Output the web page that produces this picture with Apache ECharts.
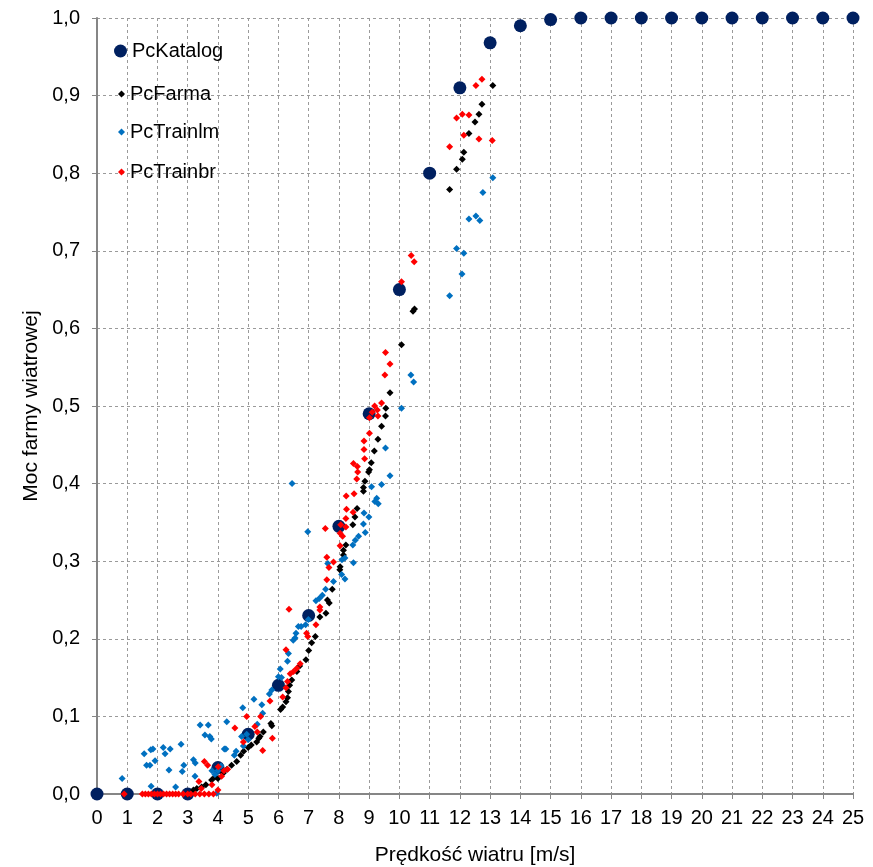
<!DOCTYPE html>
<html>
<head>
<meta charset="utf-8">
<script src="https://cdn.jsdelivr.net/npm/echarts@6/dist/echarts.min.js"></script>
<style>
  html, body { margin: 0; padding: 0; background: #fff; }
  #chart { width: 873px; height: 867px; }
</style>
</head>
<body>
<div id="chart"></div>
<script>
// dane: [prędkość wiatru, moc]
const katalogX = [0,1,2,3,4,5,6,7,8,9,10,11,12,13,14,15,16,17,18,19,20,21,22,23,24,25];
const katalogY = [0,0,0,0,0.034,0.077,0.14,0.23,0.345,0.49,0.65,0.80,0.91,0.968,0.99,0.998,1,1,1,1,1,1,1,1,1,1];

const farma = [
  [3.0,0.0],[3.19,0.005],[3.3,0.007],[3.46,0.009],[3.6,0.012],[3.79,0.018],[3.9,0.022],[4.0,0.02],
  [4.18,0.027],[4.3,0.032],[4.45,0.037],[4.62,0.042],[4.75,0.05],[4.85,0.055],[5.0,0.06],[5.1,0.063],
  [5.28,0.067],[5.35,0.072],[5.39,0.074],[5.5,0.08],[5.75,0.091],[5.78,0.088],[6.07,0.109],[6.14,0.112],
  [6.25,0.119],[6.3,0.124],[6.33,0.132],[6.37,0.14],[6.44,0.147],[6.61,0.158],[6.7,0.165],[6.91,0.173],
  [7.0,0.185],[7.1,0.195],[7.22,0.203],[7.37,0.228],[7.57,0.233],[7.62,0.25],[7.68,0.246],[7.78,0.264],
  [8.03,0.289],[8.04,0.293],[8.15,0.308],[8.15,0.314],[8.23,0.321],[8.46,0.347],[8.53,0.357],[8.6,0.368],
  [8.81,0.39],[8.81,0.395],[8.86,0.403],[8.98,0.415],[9.01,0.418],[9.07,0.427],[9.17,0.442],[9.29,0.457],
  [9.41,0.474],[9.54,0.487],[9.55,0.497],[9.69,0.517],[10.07,0.579],[10.45,0.622],[10.5,0.625],
  [11.66,0.779],[11.89,0.805],[12.08,0.818],[12.13,0.827],[12.3,0.851],[12.5,0.866],[12.63,0.876],
  [12.73,0.889],[13.09,0.913]
];

const trainlm = [
  [0.83,0.02],[1.56,0.052],[1.64,0.037],[1.75,0.037],[1.78,0.057],[1.85,0.058],[1.79,0.01],[1.92,0.043],
  [2.19,0.06],[2.25,0.052],[2.38,0.031],[2.42,0.058],[2.6,0.009],[2.78,0.064],[2.82,0.029],[2.87,0.037],
  [3.19,0.044],[3.24,0.023],[3.25,0.04],[3.41,0.089],[3.57,0.076],[3.68,0.089],[3.73,0.074],[3.78,0.071],
  [3.96,0.001],[3.8,0.03],[3.9,0.025],[4.0,0.03],[4.1,0.036],[4.21,0.058],[4.26,0.058],[4.29,0.093],
  [4.54,0.05],[4.6,0.055],[4.78,0.074],[4.82,0.111],[4.84,0.062],[4.95,0.077],[5.0,0.07],[5.19,0.122],
  [5.3,0.09],[5.45,0.115],[5.48,0.104],[5.7,0.129],[5.78,0.134],[6.0,0.151],[6.06,0.161],[6.1,0.15],
  [6.3,0.171],[6.33,0.181],[6.45,0.4],[6.49,0.198],[6.55,0.201],[6.58,0.207],[6.66,0.216],[6.75,0.216],
  [6.9,0.218],[6.97,0.338],[6.99,0.225],[7.24,0.249],[7.35,0.252],[7.45,0.256],[7.56,0.264],[7.63,0.297],
  [7.82,0.274],[8.09,0.283],[8.2,0.277],[8.2,0.304],[8.1,0.302],[8.46,0.321],[8.48,0.298],[8.54,0.327],
  [8.65,0.332],[8.81,0.348],[8.83,0.362],[8.87,0.337],[8.99,0.357],[9.08,0.396],[9.19,0.377],[9.25,0.381],
  [9.3,0.374],[9.41,0.399],[9.54,0.446],[9.69,0.41],[10.07,0.497],[10.38,0.54],[10.47,0.531],
  [11.66,0.642],[11.89,0.703],[12.07,0.67],[12.13,0.697],[12.3,0.741],[12.53,0.745],[12.66,0.739],
  [12.76,0.775],[13.09,0.794]
];

const trainbr = [
  [0.9,0],[1.5,0],[1.6,0],[1.7,0],[1.8,0],[1.9,0],[2.0,0],[2.1,0],[2.2,0],[2.3,0],[2.4,0],[2.5,0],
  [2.6,0],[2.7,0],[2.85,0],[3.0,0],[3.1,0],[3.25,0],[3.4,0],[3.55,0],[3.7,0],[3.85,0],[4.0,0.005],
  [3.37,0.016],[3.45,0.007],[3.55,0.042],[3.66,0.037],[3.8,0.012],[4.01,0.035],[4.12,0.023],[4.2,0.03],
  [4.32,0.032],[4.56,0.085],[4.84,0.067],[4.95,0.1],[5.22,0.087],[5.3,0.08],[5.41,0.1],[5.48,0.056],
  [5.72,0.12],[5.8,0.072],[6.14,0.125],[6.25,0.137],[6.3,0.145],[6.39,0.155],[6.5,0.158],[6.61,0.162],
  [6.72,0.168],[6.25,0.186],[6.35,0.238],[6.93,0.207],[6.97,0.203],[7.24,0.218],[7.37,0.241],[7.37,0.237],
  [7.55,0.342],[7.6,0.276],[7.6,0.305],[7.67,0.292],[7.82,0.299],[8.04,0.32],[8.04,0.336],[8.06,0.347],
  [8.12,0.332],[8.23,0.344],[8.23,0.355],[8.24,0.384],[8.25,0.367],[8.47,0.363],[8.5,0.387],[8.48,0.426],
  [8.59,0.406],[8.61,0.422],[8.62,0.415],[8.83,0.444],[8.83,0.455],[8.85,0.432],[9.01,0.465],[9.01,0.485],
  [9.1,0.492],[9.18,0.5],[9.27,0.495],[9.29,0.487],[9.41,0.504],[9.52,0.54],[9.54,0.569],[9.69,0.554],
  [10.07,0.66],[10.39,0.694],[10.49,0.686],[11.66,0.834],[11.89,0.871],[12.08,0.876],[12.13,0.849],
  [12.3,0.875],[12.53,0.913],[12.63,0.844],[12.73,0.921],[13.07,0.842]
];

const chart = echarts.init(document.getElementById('chart'));
const font = 'Liberation Sans, Arial, sans-serif';
const gray = '#868686';

function legendItem(name, left, top, size) {
  return {
    data: [name], left: left, top: top, orient: 'vertical', padding: 0,
    itemWidth: size, itemHeight: size, itemGap: 0,
    textStyle: { fontFamily: font, fontSize: 20, color: '#000' },
    selectedMode: false
  };
}

chart.setOption({
  animation: false,
  grid: { left: 97, right: 20, top: 18, bottom: 73, outerBoundsMode: 'none' },
  legend: [
    legendItem('PcKatalog', 114, 41, 13),
    legendItem('PcFarma', 118, 84, 7),
    legendItem('PcTrainlm', 118, 122, 7),
    legendItem('PcTrainbr', 118, 162, 7)
  ],
  xAxis: {
    type: 'value', min: 0, max: 25, interval: 1,
    name: 'Prędkość wiatru [m/s]', nameLocation: 'middle', nameGap: 51,
    nameTextStyle: { fontFamily: font, fontSize: 21, color: '#000' },
    axisLine: { show: true, onZero: false, lineStyle: { color: gray, width: 2 } },
    axisTick: { show: true, length: 5, lineStyle: { color: gray } },
    axisLabel: { fontFamily: font, fontSize: 20, color: '#000', margin: 14 },
    splitLine: { show: true, lineStyle: { color: '#9a9a9a', type: [3, 3], width: 1 } }
  },
  yAxis: {
    type: 'value', min: 0, max: 1, interval: 0.1,
    name: 'Moc farmy wiatrowej', nameLocation: 'middle', nameGap: 55,
    nameTextStyle: { fontFamily: font, fontSize: 21, color: '#000' },
    axisLine: { show: true, lineStyle: { color: gray, width: 2 } },
    axisTick: { show: true, length: 5, lineStyle: { color: gray } },
    axisLabel: {
      fontFamily: font, fontSize: 20, color: '#000', margin: 17,
      formatter: v => v.toFixed(1).replace('.', ',')
    },
    splitLine: { show: true, lineStyle: { color: '#9a9a9a', type: [3, 3], width: 1 } }
  },
  series: [
    {
      name: 'PcKatalog', type: 'scatter', symbol: 'circle', symbolSize: 13,
      itemStyle: { color: '#002060', opacity: 1 },
      data: katalogX.map((x, i) => [x, katalogY[i]])
    },
    {
      name: 'PcFarma', type: 'scatter', symbol: 'diamond', symbolSize: 7,
      itemStyle: { color: '#000000', opacity: 1 }, data: farma
    },
    {
      name: 'PcTrainlm', type: 'scatter', symbol: 'diamond', symbolSize: 7,
      itemStyle: { color: '#0070C0', opacity: 1 }, data: trainlm
    },
    {
      name: 'PcTrainbr', type: 'scatter', symbol: 'diamond', symbolSize: 7,
      itemStyle: { color: '#FF0000', opacity: 1 }, data: trainbr
    }
  ]
});
</script>
</body>
</html>
